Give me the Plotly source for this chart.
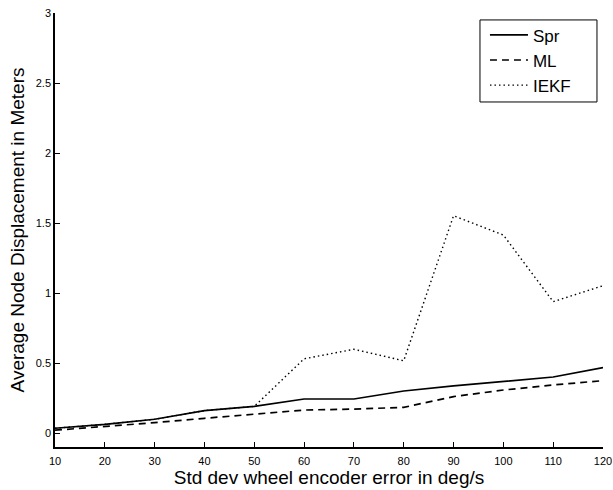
import plotly.graph_objects as go

x_vals = [10, 20, 30, 40, 50, 60, 70, 80, 90, 100, 110, 120]
spr = [0.034, 0.062, 0.098, 0.16, 0.19, 0.243, 0.243, 0.30, 0.336, 0.367, 0.40, 0.467]
ml = [0.02, 0.045, 0.074, 0.105, 0.136, 0.164, 0.171, 0.183, 0.26, 0.307, 0.343, 0.374]
iekf = [0.034, 0.062, 0.098, 0.16, 0.19, 0.53, 0.598, 0.516, 1.552, 1.414, 0.938, 1.052]
series_names = ["Spr", "ML", "IEKF"]
x_ticks = [10, 20, 30, 40, 50, 60, 70, 80, 90, 100, 110, 120]
y_ticks = [0, 0.5, 1, 1.5, 2, 2.5, 3]
y_tick_text = ["0", "0.5", "1", "1.5", "2", "2.5", "3"]

FONT = "Liberation Sans, Arial, sans-serif"

fig = go.Figure()
fig.add_trace(go.Scatter(x=x_vals, y=spr, name=series_names[0], mode="lines",
                         line=dict(color="black", width=1.7, dash="solid")))
fig.add_trace(go.Scatter(x=x_vals, y=ml, name=series_names[1], mode="lines",
                         line=dict(color="black", width=1.7, dash="7px,5px")))
fig.add_trace(go.Scatter(x=x_vals, y=iekf, name=series_names[2], mode="lines",
                         line=dict(color="black", width=1.4, dash="1.5px,3px")))

# legend frame
fig.add_shape(type="rect", xref="paper", yref="paper",
              x0=0.7755, x1=0.989, y0=0.795, y1=0.984,
              line=dict(color="black", width=1), fillcolor="white", layer="above")

fig.update_layout(
    width=613, height=490,
    paper_bgcolor="white", plot_bgcolor="white",
    margin=dict(l=55, r=10, t=13, b=43, autoexpand=False),
    font=dict(family=FONT, color="black"),
    showlegend=True,
    legend=dict(x=0.7846, y=0.99, xanchor="left", yanchor="top",
                bgcolor="rgba(0,0,0,0)", borderwidth=0,
                font=dict(size=17, family=FONT, color="black"),
                itemwidth=38, tracegroupgap=0),
    xaxis=dict(range=[10, 120], tickvals=x_ticks, ticks="inside", ticklen=5,
               tickcolor="black", showline=True, linecolor="black", linewidth=1.5,
               showgrid=False, zeroline=False, mirror=False, automargin=False,
               ticklabelstandoff=3,
               tickfont=dict(size=11, family=FONT, color="black"),
               title=dict(text="Std dev wheel encoder error in deg/s",
                          font=dict(size=19, family=FONT, color="black"), standoff=2)),
    yaxis=dict(range=[-0.1, 3], tickvals=y_ticks, ticktext=y_tick_text, ticks="inside",
               ticklen=5, tickcolor="black", showline=True, linecolor="black",
               linewidth=1.5, showgrid=False, zeroline=False, mirror=False,
               automargin=False,
               tickfont=dict(size=11, family=FONT, color="black"),
               title=dict(text="Average Node Displacement in Meters",
                          font=dict(size=19, family=FONT, color="black"), standoff=6)),
)

fig.write_html("out.html", config={"displayModeBar": False},
               post_script="document.body.style.margin='0';document.body.style.padding='0';")
